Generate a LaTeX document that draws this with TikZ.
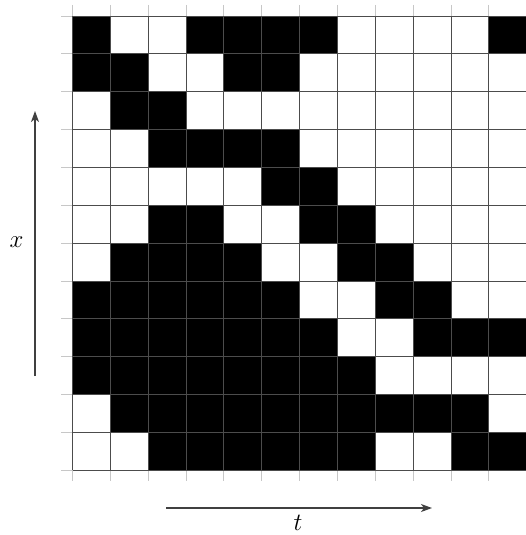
\documentclass[tikz,border=0pt]{standalone}
\usetikzlibrary{arrows.meta}
\begin{document}
\begin{tikzpicture}[x=1pt,y=-1pt,
  cellfill/.style={fill=black},
  gridext/.style={draw=black!22,line width=0.9pt},
  gridmain/.style={draw=black!70,line width=0.9pt},
  axisarrow/.style={draw=black!75,line width=1.1pt,-{Stealth[length=11pt,width=8pt,inset=3pt]}},
  axislabel/.style={inner sep=0pt,font=\fontsize{35}{40}\selectfont}]
\useasboundingbox (0,0) rectangle (526,535);
\foreach \row [count=\j from 0] in {
  {1,0,0,1,1,1,1,0,0,0,0,1},
  {1,1,0,0,1,1,0,0,0,0,0,0},
  {0,1,1,0,0,0,0,0,0,0,0,0},
  {0,0,1,1,1,1,0,0,0,0,0,0},
  {0,0,0,0,0,1,1,0,0,0,0,0},
  {0,0,1,1,0,0,1,1,0,0,0,0},
  {0,1,1,1,1,0,0,1,1,0,0,0},
  {1,1,1,1,1,1,0,0,1,1,0,0},
  {1,1,1,1,1,1,1,0,0,1,1,1},
  {1,1,1,1,1,1,1,1,0,0,0,0},
  {0,1,1,1,1,1,1,1,1,1,1,0},
  {0,0,1,1,1,1,1,1,0,0,1,1}} {
  \foreach \v [count=\i from 0] in \row {
    \ifnum\v=1
      \fill[cellfill] (72.5+\i*37.85,16+\j*37.85) rectangle ++(37.85,37.85);
    \fi
  }
}
\foreach \k in {0,...,12} {
  \draw[gridext] (72.5+\k*37.85,5) -- (72.5+\k*37.85,481);
  \draw[gridext] (61,16+\k*37.85) -- (540,16+\k*37.85);
}
\foreach \k in {0,...,12} {
  \draw[gridmain] (72.5+\k*37.85,16) -- (72.5+\k*37.85,470.2);
  \draw[gridmain] (72.5,16+\k*37.85) -- (540,16+\k*37.85);
}
\coordinate (xs) at (35,376);
\coordinate (xe) at (35,111);
\coordinate (ts) at (166,508);
\coordinate (te) at (432,508);
\draw[axisarrow] (xs) -- (xe);
\draw[axisarrow] (ts) -- (te);
\node[axislabel] (xl) at (16.5,242.5) {$x$};
\node[axislabel,anchor=south] (tl) at (298,531) {$t$};
\end{tikzpicture}
\end{document}
